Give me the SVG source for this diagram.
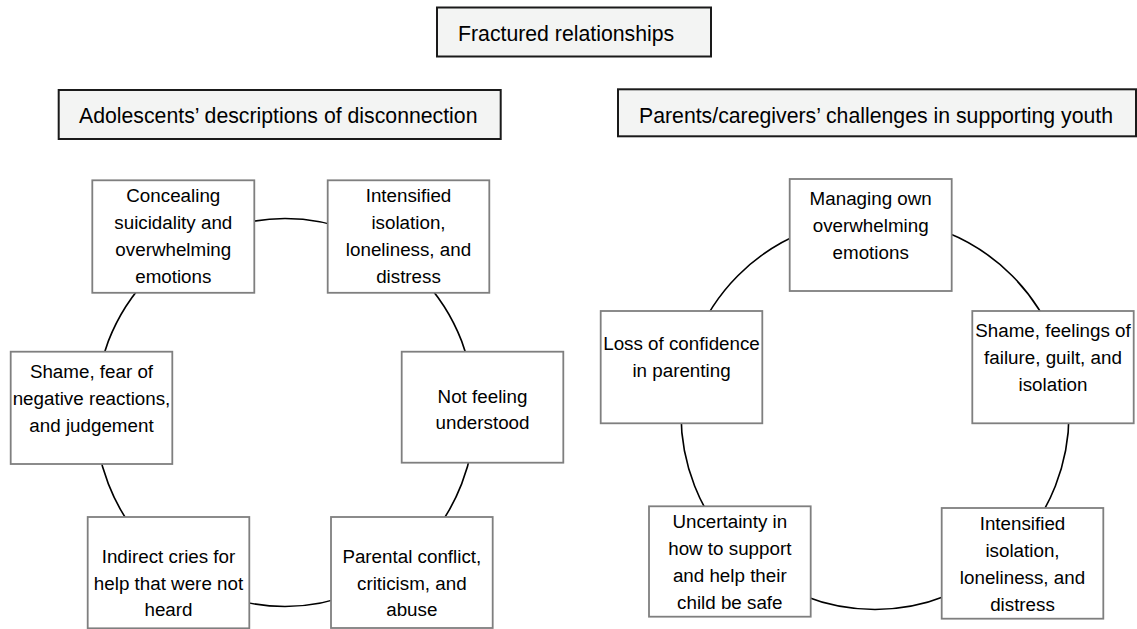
<svg xmlns="http://www.w3.org/2000/svg" width="1137" height="629" viewBox="0 0 1137 629">
<style>
.hdr{fill:#f3f4f3;stroke:#1a1a1a;stroke-width:2}
.nd{fill:#ffffff;stroke:#7f7f7f;stroke-width:1.8}
.ring{fill:none;stroke:#000;stroke-width:1.6}
.ht{font-family:"Liberation Sans",Arial,sans-serif;font-size:21.25px;fill:#000}
.nt{font-family:"Liberation Sans",Arial,sans-serif;font-size:18.8px;fill:#000;text-anchor:middle}
</style>
<rect width="1137" height="629" fill="#ffffff"/>
<g id="connectors">
<ellipse class="ring" cx="285" cy="412.5" rx="190" ry="194"/>
<ellipse class="ring" cx="875" cy="414" rx="194" ry="195.5"/>
</g>
<g id="title">
<rect class="hdr" x="437" y="7.5" width="274" height="49"/>
<text class="ht" x="458" y="40.5">Fractured relationships</text>
</g>
<g id="adolescents-header">
<rect class="hdr" x="58.7" y="90" width="442" height="49"/>
<text class="ht" x="79" y="122.5">Adolescents’ descriptions of disconnection</text>
</g>
<g id="parents-header">
<rect class="hdr" x="618" y="89.3" width="518" height="47"/>
<text class="ht" x="639" y="122.5">Parents/caregivers’ challenges in supporting youth</text>
</g>
<g id="a-concealing">
<rect class="nd" x="92.3" y="180.3" width="162" height="112.5"/>
<text class="nt" x="173.3" y="202">Concealing</text>
<text class="nt" x="173.3" y="229">suicidality and</text>
<text class="nt" x="173.3" y="256">overwhelming</text>
<text class="nt" x="173.3" y="283">emotions</text>
</g>
<g id="a-intensified">
<rect class="nd" x="327.7" y="180.3" width="161.6" height="112.5"/>
<text class="nt" x="408.5" y="202">Intensified</text>
<text class="nt" x="408.5" y="229">isolation,</text>
<text class="nt" x="408.5" y="256">loneliness, and</text>
<text class="nt" x="408.5" y="283">distress</text>
</g>
<g id="a-notfeeling">
<rect class="nd" x="401.7" y="351.7" width="161.6" height="111"/>
<text class="nt" x="482.5" y="403">Not feeling</text>
<text class="nt" x="482.5" y="429">understood</text>
</g>
<g id="a-parental">
<rect class="nd" x="331" y="517" width="161.7" height="111"/>
<text class="nt" x="411.8" y="563">Parental conflict,</text>
<text class="nt" x="411.8" y="590">criticism, and</text>
<text class="nt" x="411.8" y="616">abuse</text>
</g>
<g id="a-indirect">
<rect class="nd" x="87.7" y="517" width="161.6" height="111.3"/>
<text class="nt" x="168.5" y="563">Indirect cries for</text>
<text class="nt" x="168.5" y="590">help that were not</text>
<text class="nt" x="168.5" y="616">heard</text>
</g>
<g id="a-shame">
<rect class="nd" x="10.7" y="351.7" width="161.6" height="112.3"/>
<text class="nt" x="91.5" y="378">Shame, fear of</text>
<text class="nt" x="91.5" y="405">negative reactions,</text>
<text class="nt" x="91.5" y="432">and judgement</text>
</g>
<g id="p-managing">
<rect class="nd" x="789.7" y="179" width="162" height="112"/>
<text class="nt" x="870.7" y="205">Managing own</text>
<text class="nt" x="870.7" y="232">overwhelming</text>
<text class="nt" x="870.7" y="259">emotions</text>
</g>
<g id="p-shame">
<rect class="nd" x="972.3" y="311" width="161.4" height="112.3"/>
<text class="nt" x="1053" y="337">Shame, feelings of</text>
<text class="nt" x="1053" y="364">failure, guilt, and</text>
<text class="nt" x="1053" y="391">isolation</text>
</g>
<g id="p-intensified">
<rect class="nd" x="941.7" y="508" width="161.6" height="110.7"/>
<text class="nt" x="1022.5" y="530">Intensified</text>
<text class="nt" x="1022.5" y="557">isolation,</text>
<text class="nt" x="1022.5" y="584">loneliness, and</text>
<text class="nt" x="1022.5" y="611">distress</text>
</g>
<g id="p-uncertainty">
<rect class="nd" x="649" y="506.3" width="161.7" height="110.4"/>
<text class="nt" x="729.8" y="528">Uncertainty in</text>
<text class="nt" x="729.8" y="555">how to support</text>
<text class="nt" x="729.8" y="582">and help their</text>
<text class="nt" x="729.8" y="609">child be safe</text>
</g>
<g id="p-loss">
<rect class="nd" x="600.7" y="311" width="161.6" height="112.3"/>
<text class="nt" x="681.5" y="350">Loss of confidence</text>
<text class="nt" x="681.5" y="377">in parenting</text>
</g>
</svg>
